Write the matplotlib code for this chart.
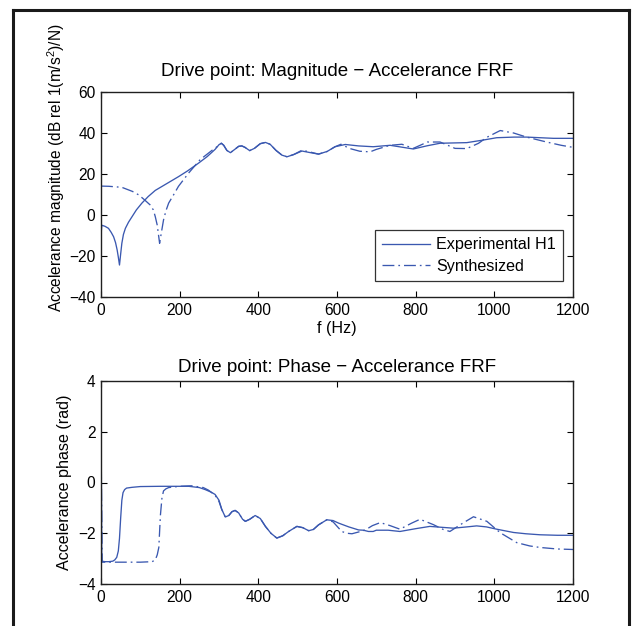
import matplotlib
matplotlib.use("Agg")
import matplotlib.pyplot as plt
from matplotlib.lines import Line2D

plt.rcParams['font.family'] = ['Liberation Sans', 'DejaVu Sans']
plt.rcParams['mathtext.fontset'] = 'custom'
plt.rcParams['mathtext.rm'] = 'Liberation Sans'
plt.rcParams['mathtext.it'] = 'Liberation Sans:italic'

# ---------------- data ----------------
mag_exp_f = [0, 2, 10, 19, 26, 32, 37, 41, 44, 47, 50, 53, 57, 62, 70, 79, 90, 104, 120, 138,
             160, 197, 220, 248, 270, 290, 300, 306, 312, 320, 329, 340, 350, 358, 366, 378,
             390, 405, 418, 430, 445, 460, 473, 490, 511, 530, 553, 575, 595, 621, 655, 692,
             735, 794, 830, 862, 930, 970, 1006, 1050, 1082, 1150, 1200]
mag_exp = [-10, -5, -5.5, -6.5, -8.5, -10.6, -13.5, -17, -20.5, -24.4, -19, -13.8, -9.5, -6.5,
           -3.5, -0.8, 2.5, 5.8, 9, 12, 14.5, 18.7, 21.5, 25.3, 28.5, 32, 34.3, 35, 34, 31.5,
           30.4, 32, 33.5, 33.7, 33, 31.4, 32.5, 34.8, 35.4, 34.5, 31.5, 29.2, 28.4, 29.5, 31.2,
           30.5, 29.7, 31, 33.3, 34.4, 33.7, 33.3, 34, 32.2, 33.8, 35, 35.3, 36.5, 37.7, 38, 38,
           37.4, 37.4]

mag_syn_f = [0, 20, 53, 80, 96, 110, 125, 133, 138, 143, 149, 154, 159, 165, 172, 185, 197,
             223, 252, 282, 300, 306, 312, 320, 329, 340, 350, 358, 366, 378, 390, 405, 418,
             430, 445, 460, 473, 490, 511, 530, 553, 575, 595, 610, 633, 658, 684, 700, 735,
             765, 794, 830, 862, 900, 930, 960, 981, 1015, 1049, 1082, 1133, 1170, 1200]
mag_syn = [14.1, 14, 13.5, 11.5, 9.8, 7.5, 4.9, 2.5, -0.8, -5, -13.8, -8, -2.4, 2, 5.8, 10, 14,
           20.5, 27, 31.5, 34, 35, 34, 31.5, 30.4, 32, 33.5, 33.7, 33, 31.4, 32.5, 34.8, 35.4,
           34.5, 31.5, 29.2, 28.4, 29.5, 31.6, 30.8, 29.7, 31, 33.3, 34.5, 32.4, 31.1, 30.8,
           32, 34, 34.5, 32.5, 35.6, 35.6, 32.5, 32.4, 35, 37.9, 41.2, 40, 38, 35.6, 34, 33]

ph_exp_f = [0, 1, 2, 10, 20, 30, 35, 40, 44, 47, 50, 53, 56, 60, 65, 79, 100, 150, 223, 250,
            265, 280, 290, 300, 307, 316, 325, 333, 341, 350, 360, 367, 378, 392, 405, 418,
            432, 447, 462, 477, 498, 513, 528, 540, 553, 574, 590, 604, 630, 655, 667, 680,
            692, 700, 730, 760, 800, 836, 870, 896, 930, 955, 980, 1006, 1049, 1080, 1116,
            1160, 1200]
ph_exp = [3.14, 0, -3.1, -3.12, -3.12, -3.1, -3.05, -2.95, -2.7, -2.2, -1.4, -0.7, -0.4, -0.28,
          -0.22, -0.19, -0.16, -0.15, -0.15, -0.2, -0.28, -0.38, -0.47, -0.7, -1.06, -1.36,
          -1.3, -1.15, -1.1, -1.2, -1.45, -1.53, -1.45, -1.3, -1.42, -1.73, -2.0, -2.19, -2.1,
          -1.93, -1.73, -1.78, -1.9, -1.85, -1.67, -1.47, -1.5, -1.6, -1.75, -1.87, -1.88,
          -1.93, -1.93, -1.88, -1.88, -1.93, -1.82, -1.73, -1.77, -1.8, -1.75, -1.71, -1.75,
          -1.84, -1.97, -2.02, -2.06, -2.08, -2.08]

ph_syn_f = [0, 1, 3, 20, 60, 100, 130, 138, 143, 147, 151, 155, 159, 165, 172, 200, 230, 260,
            273, 290, 300, 307, 316, 325, 333, 341, 350, 360, 367, 378, 392, 405, 418, 432,
            447, 462, 477, 498, 513, 528, 540, 553, 574, 590, 612, 625, 638, 655, 672, 690,
            710, 735, 760, 790, 811, 845, 870, 887, 920, 947, 981, 1015, 1057, 1090, 1116,
            1160, 1200]
ph_syn = [3.14, 0, -3.14, -3.14, -3.14, -3.14, -3.12, -3.05, -2.85, -2.56, -1.3, -0.6, -0.33,
          -0.25, -0.2, -0.15, -0.13, -0.2, -0.3, -0.5, -0.75, -1.06, -1.36, -1.3, -1.15, -1.1,
          -1.2, -1.45, -1.53, -1.45, -1.3, -1.42, -1.73, -2.0, -2.19, -2.1, -1.93, -1.73,
          -1.78, -1.9, -1.85, -1.67, -1.47, -1.55, -1.93, -2.0, -2.02, -1.95, -1.87, -1.7,
          -1.58, -1.7, -1.84, -1.6, -1.45, -1.66, -1.85, -1.93, -1.6, -1.35, -1.53, -1.98,
          -2.37, -2.5, -2.56, -2.62, -2.64]

xticks = [0, 200, 400, 600, 800, 1000, 1200]
mag_yticks = [-40, -20, 0, 20, 40, 60]
ph_yticks = [-4, -2, 0, 2, 4]
legend_labels = ["Experimental H1", "Synthesized"]

# ---------------- figure ----------------
W, H = 633, 626
fig = plt.figure(figsize=(W / 100, H / 100), dpi=100)
fig.patch.set_facecolor('white')

def ax_rect(l, t, r, b):
    return [l / W, (H - b) / H, (r - l) / W, (b - t) / H]

def fx(px):
    return px / W

def fy(py):
    return 1 - py / H

col = '#3a58b0'
dd = (0, (9, 3, 1.3, 3))
FS = 11.2
TFS = 13.5
LFS = 11.6

def style(ax):
    ax.tick_params(direction='in', length=4, width=0.8, top=True, right=True,
                   labelsize=FS, colors='black', pad=4)
    for s in ax.spines.values():
        s.set_linewidth(1.0)
        s.set_color('#202020')

ax1 = fig.add_axes(ax_rect(101, 92, 573, 297))
ax1.plot(mag_exp_f, mag_exp, color=col, lw=0.95, label=legend_labels[0])
ax1.plot(mag_syn_f, mag_syn, color=col, lw=0.95, linestyle=dd, label=legend_labels[1])
ax1.set_xlim(0, 1200)
ax1.set_ylim(-40, 60)
ax1.set_xticks(xticks)
ax1.set_yticks(mag_yticks)
ax1.set_yticklabels([str(v).replace('-', '\u2212') for v in mag_yticks])
style(ax1)
leg = ax1.legend(loc='lower right', bbox_to_anchor=(0.979, 0.078), fontsize=LFS,
                 fancybox=False, frameon=True, edgecolor='black', handlelength=3.0,
                 handletextpad=0.35, borderpad=0.45, labelspacing=0.4,
                 borderaxespad=0)
leg.get_frame().set_linewidth(0.9)

ax2 = fig.add_axes(ax_rect(101, 381, 573, 584))
ax2.plot(ph_exp_f, ph_exp, color=col, lw=0.95)
ax2.plot(ph_syn_f, ph_syn, color=col, lw=0.95, linestyle=dd)
ax2.set_xlim(0, 1200)
ax2.set_ylim(-4, 4)
ax2.set_xticks(xticks)
ax2.set_yticks(ph_yticks)
ax2.set_yticklabels([str(v).replace('-', '\u2212') for v in ph_yticks])
style(ax2)

fig.text(fx(337), fy(72), "Drive point: Magnitude \u2212 Accelerance FRF",
         ha='center', va='center', fontsize=TFS)
fig.text(fx(337), fy(368), "Drive point: Phase \u2212 Accelerance FRF",
         ha='center', va='center', fontsize=TFS)
fig.text(fx(337), fy(328), "f (Hz)", ha='center', va='center', fontsize=LFS)
fig.text(fx(56), fy(168), "Accelerance magnitude (dB rel 1(m/s$^2$)/N)",
         rotation=90, ha='center', va='center', fontsize=11.2)
fig.text(fx(65), fy(482), "Accelerance phase (rad)",
         rotation=90, ha='center', va='center', fontsize=LFS)

# outer frame (open at bottom)
fl, ft, fr = 13, 10, 629
for xs, ys in [([fx(fl), fx(fl)], [0, fy(ft)]),
               ([fx(fl), fx(fr)], [fy(ft), fy(ft)]),
               ([fx(fr), fx(fr)], [0, fy(ft)])]:
    fig.add_artist(Line2D(xs, ys, transform=fig.transFigure, color='#1a1a1a', lw=2.2))

fig.savefig("out.png", dpi=100)
